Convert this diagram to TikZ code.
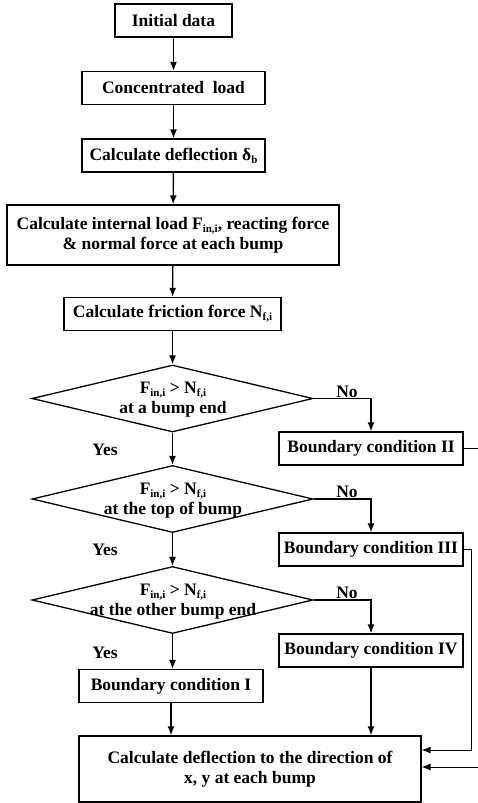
\documentclass[tikz,border=0pt]{standalone}
\usepackage{fontspec}
\setmainfont{Liberation Serif}
\usetikzlibrary{shapes.geometric,arrows.meta}
\newcommand{\sbs}[1]{\raisebox{-0.35ex}{\fontsize{11}{11}\selectfont #1}}

\begin{document}
\begin{tikzpicture}[x=1pt,y=-1pt,
        font=\fontsize{17.5}{20}\selectfont\bfseries,
        box/.style={draw=black,line width=1.3pt,minimum height=33pt,inner sep=0pt},
        test/.style={draw=black,line width=1.3pt,diamond,minimum width=281pt,minimum height=67pt,inner sep=0pt},
        arr/.style={line width=1.4pt,-{Latex[length=9pt,width=7pt]}},
        side/.style={line width=0.9pt,-{Latex[length=9pt,width=7pt]}}]
        \useasboundingbox (0,0) rectangle (477,803);

        \node[box,minimum width=117pt] (init) at (173.5,20.5) {Initial data};
        \node[box,minimum width=183pt] (conc) at (173.5,88) {Concentrated~ load};
        \node[box,minimum width=183pt] (defl) at (173.5,155.5) {Calculate deflection δ\sbs{b}};
        \node[box,minimum width=332pt,minimum height=60pt,align=center] (intl) at (173,235) {Calculate internal load F\sbs{in,i}, reacting force\\\& normal force at each bump};
        \node[box,minimum width=217pt] (fric) at (172.5,314) {Calculate friction force N\sbs{f,i}};

        \node[test] (d1) at (172.5,398.5) {};
        \node[align=center] (d1t) at (173,400) {F\sbs{in,i} > N\sbs{f,i}\\at a bump end};
        \node[test] (d2) at (172.5,499) {};
        \node[align=center] (d2t) at (173,501) {F\sbs{in,i} > N\sbs{f,i}\\at the top of bump};
        \node[test] (d3) at (172.5,600) {};
        \node[align=center] (d3t) at (173,602) {F\sbs{in,i} > N\sbs{f,i}\\at the other bump end};

        \node[box,minimum width=184pt] (bc2) at (371,448.5) {Boundary condition II};
        \node[box,minimum width=184pt] (bc3) at (371,549.5) {Boundary condition III};
        \node[box,minimum width=184pt] (bc4) at (371,650.5) {Boundary condition IV};
        \node[box,minimum width=184pt] (bc1) at (171,686) {Boundary condition I};
        \node[box,minimum width=342pt,minimum height=66pt,align=center] (fin) at (250,769) {Calculate deflection to the direction of\\x, y at each bump};

        \node (no1) at (347,392) {No};
        \node (no2) at (347,492) {No};
        \node (no3) at (347,593) {No};
        \node (yes1) at (105,450) {Yes};
        \node (yes2) at (105,550) {Yes};
        \node (yes3) at (105,653) {Yes};

        \coordinate (c3a) at (471,549.5);
        \coordinate (c3b) at (471,750);
        \coordinate (c2a) at (479,448.5);
        \coordinate (c2b) at (479,767);

        \draw[arr](init) -- (conc);
        \draw[arr](conc) -- (defl);
        \draw[arr](defl) -- (intl);
        \draw[arr](intl) -- (fric);
        \draw[arr](fric) -- (d1);
        \draw[arr](d1.south) -- (d2.north);
        \draw[arr](d2.south) -- (d3.north);
        \draw[arr](d3.south) -- (d3.south |- bc1.north);
        \draw[arr](bc1) -- (bc1 |- fin.north);
        \draw[arr](d1.east) -| (bc2.north);
        \draw[arr](d2.east) -| (bc3.north);
        \draw[arr](d3.east) -| (bc4.north);
        \draw[arr](bc4) -- (bc4 |- fin.north);
        \draw[side](bc3.east) -- (c3a) -- (c3b) -- (c3b -| fin.east);
        \draw[side](bc2.east) -- (c2a) -- (c2b) -- (c2b -| fin.east);
    \end{tikzpicture}
\end{document}
